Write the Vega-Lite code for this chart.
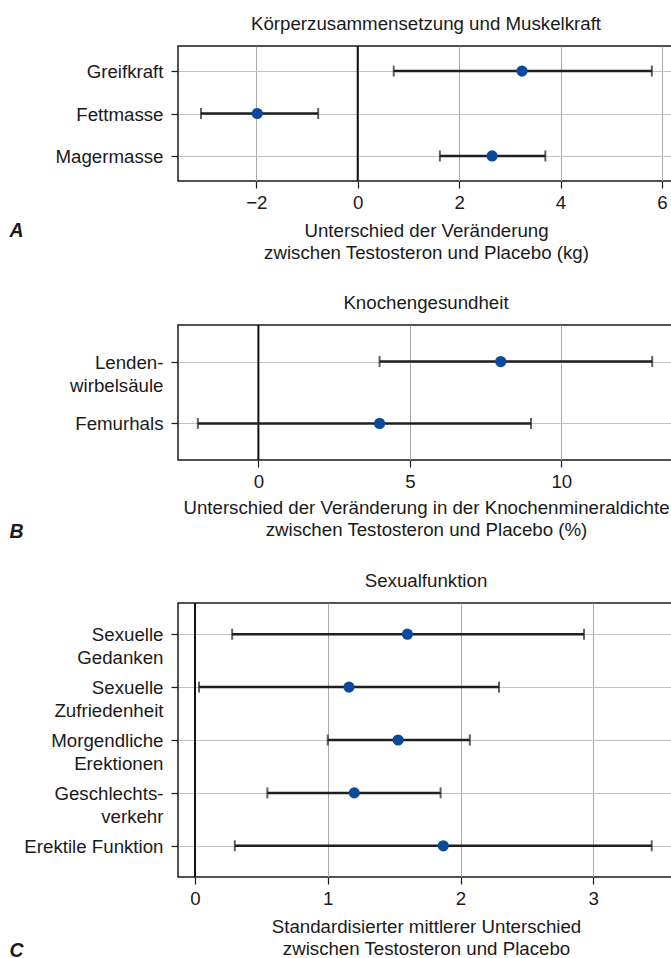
{
  "$schema": "https://vega.github.io/schema/vega-lite/v6.json",
  "padding": {"left": 8, "top": 14, "right": 0, "bottom": 0},
  "spacing": 29,
  "background": "white",
  "config": {
    "font": "Liberation Sans",
    "view": {"stroke": "#1a1a1a", "strokeWidth": 1.5},
    "title": {"fontSize": 18.7, "fontWeight": "normal", "color": "#1a1a1a", "offset": 11, "anchor": "middle"},
    "axis": {"labelFontSize": 18.7, "titleFontSize": 18.7, "labelColor": "#1a1a1a", "titleColor": "#1a1a1a", "tickColor": "#1a1a1a", "tickSize": 7, "tickWidth": 1.2, "domain": false, "grid": true, "titleFontWeight": "normal", "labelOverlap": false, "labelFlush": false},
    "axisX": {"gridColor": "#aaaaaa", "gridWidth": 1, "labelPadding": 5, "titlePadding": 10, "titleLineHeight": 22, "format": "d"},
    "axisY": {"gridColor": "#c2c2c2", "gridWidth": 1, "labelPadding": 8, "labelLineHeight": 23, "labelBaseline": "alphabetic", "labelOffset": 6.5, "labelLimit": 300}
  },
  "datasets": {
    "a": [
      {"item": "Greifkraft", "est": 3.24, "lo": 0.71, "hi": 5.8},
      {"item": "Fettmasse", "est": -1.98, "lo": -3.09, "hi": -0.78},
      {"item": "Magermasse", "est": 2.65, "lo": 1.62, "hi": 3.7}
    ],
    "b": [
      {"item": "Lenden-|wirbelsäule", "est": 8.0, "lo": 4.0, "hi": 13.0},
      {"item": "Femurhals", "est": 4.0, "lo": -2.0, "hi": 9.0}
    ],
    "c": [
      {"item": "Sexuelle|Gedanken", "est": 1.6, "lo": 0.28, "hi": 2.93},
      {"item": "Sexuelle|Zufriedenheit", "est": 1.16, "lo": 0.03, "hi": 2.29},
      {"item": "Morgendliche|Erektionen", "est": 1.53, "lo": 1.0, "hi": 2.07},
      {"item": "Geschlechts-|verkehr", "est": 1.2, "lo": 0.545, "hi": 1.85},
      {"item": "Erektile Funktion", "est": 1.87, "lo": 0.3, "hi": 3.44}
    ],
    "zero": [{"z": 0}]
  },
  "vconcat": [
    {
      "width": 496,
      "height": 135,
      "title": "Körperzusammensetzung und Muskelkraft",
      "layer": [
        {
          "data": {"name": "zero"},
          "mark": {"type": "rule", "color": "#111111", "strokeWidth": 2},
          "encoding": {"x": {"datum": 0}}
        },
        {
          "data": {"name": "a"},
          "mark": {"type": "rule", "color": "#1f1f1f", "strokeWidth": 2.5},
          "encoding": {
            "y": {"field": "item", "type": "nominal", "sort": null, "scale": {"type": "point", "padding": 0.59}, "axis": {"title": "A", "titleAngle": 0, "titleX": -169, "titleY": 184, "titleAlign": "left", "titleBaseline": "middle", "titleFontStyle": "italic", "titleFontWeight": "bold", "titleFontSize": 19.5, "labelExpr": "split(datum.label, '|')"}},
            "x": {"field": "lo", "type": "quantitative", "scale": {"domain": [-3.544, 6.237], "nice": false, "zero": false}, "axis": {"values": [-2, 0, 2, 4, 6], "title": ["Unterschied der Veränderung", "zwischen Testosteron und Placebo (kg)"]}},
            "x2": {"field": "hi"}
          }
        },
        {
          "data": {"name": "a"},
          "mark": {"type": "tick", "color": "#1f1f1f", "size": 11, "thickness": 2},
          "encoding": {
            "y": {"field": "item", "type": "nominal", "sort": null, "scale": {"type": "point", "padding": 0.59}, "axis": {"title": "A", "titleAngle": 0, "titleX": -169, "titleY": 184, "titleAlign": "left", "titleBaseline": "middle", "titleFontStyle": "italic", "titleFontWeight": "bold", "titleFontSize": 19.5, "labelExpr": "split(datum.label, '|')"}},
            "x": {"field": "lo", "type": "quantitative", "scale": {"domain": [-3.544, 6.237], "nice": false, "zero": false}, "axis": {"values": [-2, 0, 2, 4, 6], "title": ["Unterschied der Veränderung", "zwischen Testosteron und Placebo (kg)"]}}
          }
        },
        {
          "data": {"name": "a"},
          "mark": {"type": "tick", "color": "#1f1f1f", "size": 11, "thickness": 2},
          "encoding": {
            "y": {"field": "item", "type": "nominal", "sort": null, "scale": {"type": "point", "padding": 0.59}, "axis": {"title": "A", "titleAngle": 0, "titleX": -169, "titleY": 184, "titleAlign": "left", "titleBaseline": "middle", "titleFontStyle": "italic", "titleFontWeight": "bold", "titleFontSize": 19.5, "labelExpr": "split(datum.label, '|')"}},
            "x": {"field": "hi", "type": "quantitative", "scale": {"domain": [-3.544, 6.237], "nice": false, "zero": false}, "axis": {"values": [-2, 0, 2, 4, 6], "title": ["Unterschied der Veränderung", "zwischen Testosteron und Placebo (kg)"]}}
          }
        },
        {
          "data": {"name": "a"},
          "mark": {"type": "circle", "color": "#0b4a9a", "size": 125, "opacity": 1},
          "encoding": {
            "y": {"field": "item", "type": "nominal", "sort": null, "scale": {"type": "point", "padding": 0.59}, "axis": {"title": "A", "titleAngle": 0, "titleX": -169, "titleY": 184, "titleAlign": "left", "titleBaseline": "middle", "titleFontStyle": "italic", "titleFontWeight": "bold", "titleFontSize": 19.5, "labelExpr": "split(datum.label, '|')"}},
            "x": {"field": "est", "type": "quantitative", "scale": {"domain": [-3.544, 6.237], "nice": false, "zero": false}, "axis": {"values": [-2, 0, 2, 4, 6], "title": ["Unterschied der Veränderung", "zwischen Testosteron und Placebo (kg)"]}}
          }
        }
      ]
    },
    {
      "width": 496,
      "height": 135,
      "title": "Knochengesundheit",
      "layer": [
        {
          "data": {"name": "zero"},
          "mark": {"type": "rule", "color": "#111111", "strokeWidth": 2},
          "encoding": {"x": {"datum": 0}}
        },
        {
          "data": {"name": "b"},
          "mark": {"type": "rule", "color": "#1f1f1f", "strokeWidth": 2.5},
          "encoding": {
            "y": {"field": "item", "type": "nominal", "sort": null, "scale": {"type": "point", "padding": 0.59}, "axis": {"title": "B", "titleAngle": 0, "titleX": -169, "titleY": 206.5, "titleAlign": "left", "titleBaseline": "middle", "titleFontStyle": "italic", "titleFontWeight": "bold", "titleFontSize": 19.5, "labelExpr": "split(datum.label, '|')"}},
            "x": {"field": "lo", "type": "quantitative", "scale": {"domain": [-2.654, 13.72], "nice": false, "zero": false}, "axis": {"values": [0, 5, 10], "titlePadding": 8, "title": ["Unterschied der Veränderung in der Knochenmineraldichte", "zwischen Testosteron und Placebo (%)"]}},
            "x2": {"field": "hi"}
          }
        },
        {
          "data": {"name": "b"},
          "mark": {"type": "tick", "color": "#1f1f1f", "size": 11, "thickness": 2},
          "encoding": {
            "y": {"field": "item", "type": "nominal", "sort": null, "scale": {"type": "point", "padding": 0.59}, "axis": {"title": "B", "titleAngle": 0, "titleX": -169, "titleY": 206.5, "titleAlign": "left", "titleBaseline": "middle", "titleFontStyle": "italic", "titleFontWeight": "bold", "titleFontSize": 19.5, "labelExpr": "split(datum.label, '|')"}},
            "x": {"field": "lo", "type": "quantitative", "scale": {"domain": [-2.654, 13.72], "nice": false, "zero": false}, "axis": {"values": [0, 5, 10], "titlePadding": 8, "title": ["Unterschied der Veränderung in der Knochenmineraldichte", "zwischen Testosteron und Placebo (%)"]}}
          }
        },
        {
          "data": {"name": "b"},
          "mark": {"type": "tick", "color": "#1f1f1f", "size": 11, "thickness": 2},
          "encoding": {
            "y": {"field": "item", "type": "nominal", "sort": null, "scale": {"type": "point", "padding": 0.59}, "axis": {"title": "B", "titleAngle": 0, "titleX": -169, "titleY": 206.5, "titleAlign": "left", "titleBaseline": "middle", "titleFontStyle": "italic", "titleFontWeight": "bold", "titleFontSize": 19.5, "labelExpr": "split(datum.label, '|')"}},
            "x": {"field": "hi", "type": "quantitative", "scale": {"domain": [-2.654, 13.72], "nice": false, "zero": false}, "axis": {"values": [0, 5, 10], "titlePadding": 8, "title": ["Unterschied der Veränderung in der Knochenmineraldichte", "zwischen Testosteron und Placebo (%)"]}}
          }
        },
        {
          "data": {"name": "b"},
          "mark": {"type": "circle", "color": "#0b4a9a", "size": 125, "opacity": 1},
          "encoding": {
            "y": {"field": "item", "type": "nominal", "sort": null, "scale": {"type": "point", "padding": 0.59}, "axis": {"title": "B", "titleAngle": 0, "titleX": -169, "titleY": 206.5, "titleAlign": "left", "titleBaseline": "middle", "titleFontStyle": "italic", "titleFontWeight": "bold", "titleFontSize": 19.5, "labelExpr": "split(datum.label, '|')"}},
            "x": {"field": "est", "type": "quantitative", "scale": {"domain": [-2.654, 13.72], "nice": false, "zero": false}, "axis": {"values": [0, 5, 10], "titlePadding": 8, "title": ["Unterschied der Veränderung in der Knochenmineraldichte", "zwischen Testosteron und Placebo (%)"]}}
          }
        }
      ]
    },
    {
      "width": 496,
      "height": 274,
      "title": "Sexualfunktion",
      "layer": [
        {
          "data": {"name": "zero"},
          "mark": {"type": "rule", "color": "#111111", "strokeWidth": 2},
          "encoding": {"x": {"datum": 0}}
        },
        {
          "data": {"name": "c"},
          "mark": {"type": "rule", "color": "#1f1f1f", "strokeWidth": 2.5},
          "encoding": {
            "y": {"field": "item", "type": "nominal", "sort": null, "scale": {"type": "point", "padding": 0.59}, "axis": {"title": "C", "titleAngle": 0, "titleX": -169, "titleY": 347, "titleAlign": "left", "titleBaseline": "middle", "titleFontStyle": "italic", "titleFontWeight": "bold", "titleFontSize": 19.5, "labelExpr": "split(datum.label, '|')"}},
            "x": {"field": "lo", "type": "quantitative", "scale": {"domain": [-0.128, 3.608], "nice": false, "zero": false}, "axis": {"values": [0, 1, 2, 3], "title": ["Standardisierter mittlerer Unterschied", "zwischen Testosteron und Placebo"]}},
            "x2": {"field": "hi"}
          }
        },
        {
          "data": {"name": "c"},
          "mark": {"type": "tick", "color": "#1f1f1f", "size": 11, "thickness": 2},
          "encoding": {
            "y": {"field": "item", "type": "nominal", "sort": null, "scale": {"type": "point", "padding": 0.59}, "axis": {"title": "C", "titleAngle": 0, "titleX": -169, "titleY": 347, "titleAlign": "left", "titleBaseline": "middle", "titleFontStyle": "italic", "titleFontWeight": "bold", "titleFontSize": 19.5, "labelExpr": "split(datum.label, '|')"}},
            "x": {"field": "lo", "type": "quantitative", "scale": {"domain": [-0.128, 3.608], "nice": false, "zero": false}, "axis": {"values": [0, 1, 2, 3], "title": ["Standardisierter mittlerer Unterschied", "zwischen Testosteron und Placebo"]}}
          }
        },
        {
          "data": {"name": "c"},
          "mark": {"type": "tick", "color": "#1f1f1f", "size": 11, "thickness": 2},
          "encoding": {
            "y": {"field": "item", "type": "nominal", "sort": null, "scale": {"type": "point", "padding": 0.59}, "axis": {"title": "C", "titleAngle": 0, "titleX": -169, "titleY": 347, "titleAlign": "left", "titleBaseline": "middle", "titleFontStyle": "italic", "titleFontWeight": "bold", "titleFontSize": 19.5, "labelExpr": "split(datum.label, '|')"}},
            "x": {"field": "hi", "type": "quantitative", "scale": {"domain": [-0.128, 3.608], "nice": false, "zero": false}, "axis": {"values": [0, 1, 2, 3], "title": ["Standardisierter mittlerer Unterschied", "zwischen Testosteron und Placebo"]}}
          }
        },
        {
          "data": {"name": "c"},
          "mark": {"type": "circle", "color": "#0b4a9a", "size": 125, "opacity": 1},
          "encoding": {
            "y": {"field": "item", "type": "nominal", "sort": null, "scale": {"type": "point", "padding": 0.59}, "axis": {"title": "C", "titleAngle": 0, "titleX": -169, "titleY": 347, "titleAlign": "left", "titleBaseline": "middle", "titleFontStyle": "italic", "titleFontWeight": "bold", "titleFontSize": 19.5, "labelExpr": "split(datum.label, '|')"}},
            "x": {"field": "est", "type": "quantitative", "scale": {"domain": [-0.128, 3.608], "nice": false, "zero": false}, "axis": {"values": [0, 1, 2, 3], "title": ["Standardisierter mittlerer Unterschied", "zwischen Testosteron und Placebo"]}}
          }
        }
      ]
    }
  ]
}
